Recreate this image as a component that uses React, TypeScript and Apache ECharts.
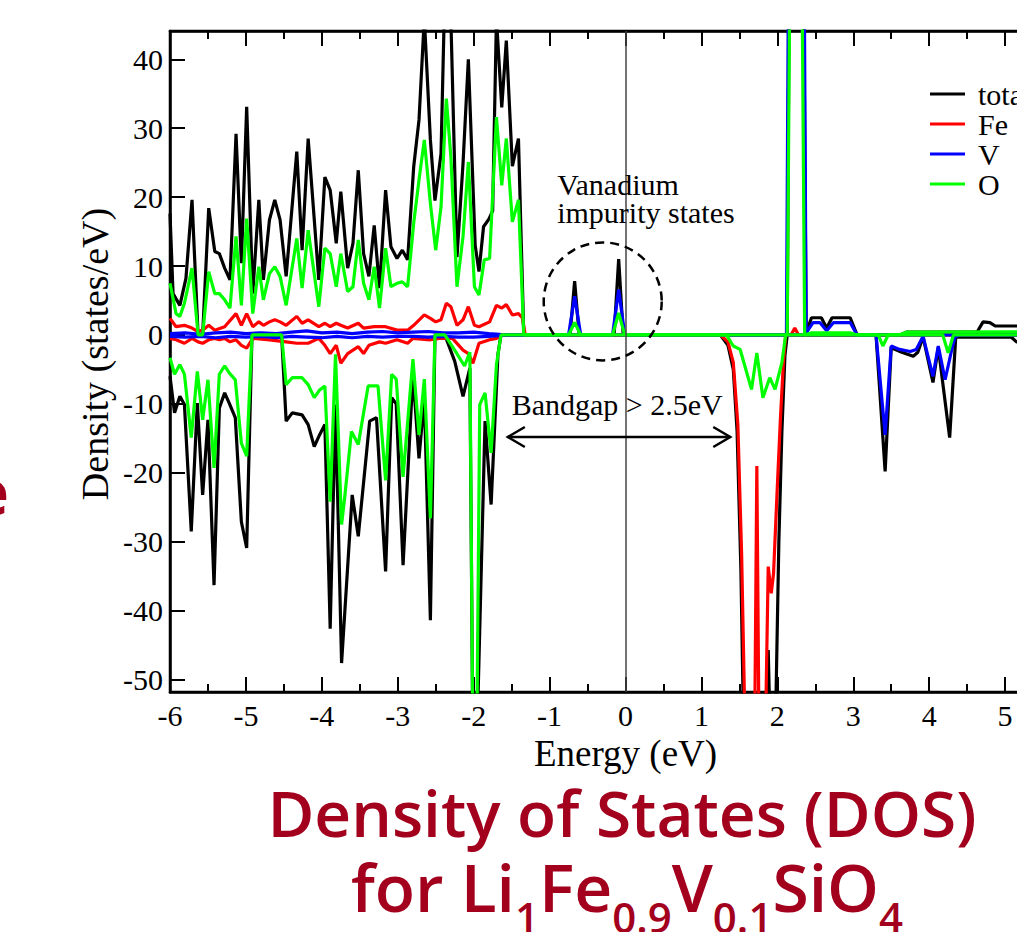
import React, { useEffect, useRef } from "react";
import * as echarts from "echarts";

type P = [number, number];

// ---------- data (Energy eV, Density states/eV) ----------
const totalUp: P[] = [
  [-6.0, 17.6], [-5.96, 6.0], [-5.87, 4.3], [-5.79, 8.2], [-5.71, 19.6], [-5.63, 0], [-5.57, 0],
  [-5.49, 18.4], [-5.41, 12.1], [-5.35, 11.8], [-5.28, 9.7], [-5.21, 8.0], [-5.13, 29.2], [-5.06, 10.4],
  [-4.99, 33.1], [-4.91, 6.0], [-4.83, 19.6], [-4.77, 8.0], [-4.69, 16.7], [-4.62, 19.6], [-4.55, 16.7],
  [-4.47, 8.5], [-4.33, 26.6], [-4.26, 12.3], [-4.18, 28.5], [-4.04, 8.0], [-3.96, 22.9], [-3.89, 21.0],
  [-3.81, 13.3], [-3.75, 20.8], [-3.66, 9.7], [-3.59, 13.3], [-3.52, 23.9], [-3.45, 11.8], [-3.38, 8.5],
  [-3.31, 15.9], [-3.24, 6.8], [-3.16, 21.0], [-3.09, 12.8], [-3.01, 11.1], [-2.94, 12.3], [-2.87, 10.9],
  [-2.79, 24.4], [-2.72, 31.2], [-2.65, 46.0], [-2.57, 28.3], [-2.51, 19.5], [-2.43, 26.3], [-2.38, 50],
  [-2.31, 50], [-2.22, 11.3], [-2.14, 24.9], [-2.07, 40.0], [-1.98, 13.0], [-1.93, 9.2], [-1.87, 15.7],
  [-1.80, 16.8], [-1.75, 18.0], [-1.70, 46.0], [-1.63, 33.0], [-1.57, 42.7], [-1.49, 24.5], [-1.41, 28.5],
  [-1.34, 0], [-0.73, 0], [-0.67, 7.8], [-0.61, 0], [-0.15, 0], [-0.09, 11.0], [-0.03, 0], [2.13, 0],
  [2.16, 60], [2.34, 60], [2.38, 0.3], [2.45, 2.5], [2.58, 2.5], [2.65, 1.0], [2.72, 2.5], [2.96, 2.5],
  [3.05, 0], [3.62, 0], [3.70, 0.4], [4.63, 0.4], [4.71, 1.9], [4.80, 1.8], [4.87, 1.3], [6.0, 1.3],
];

const totalDown: P[] = [
  [-6.0, -6.0], [-5.94, -11.3], [-5.87, -8.9], [-5.81, -10.1], [-5.72, -28.5], [-5.64, -9.9],
  [-5.57, -23.2], [-5.50, -12.3], [-5.42, -36.3], [-5.35, -10.6], [-5.28, -8.4], [-5.22, -9.9],
  [-5.14, -12.0], [-5.06, -27.1], [-4.99, -30.9], [-4.92, 0], [-4.53, 0], [-4.47, -12.5], [-4.39, -11.3],
  [-4.26, -11.6], [-4.18, -13.0], [-4.10, -16.2], [-4.03, -14.5], [-3.96, -13.0], [-3.89, -42.6],
  [-3.82, -10.1], [-3.74, -47.6], [-3.60, -23.2], [-3.52, -29.2], [-3.37, -12.5], [-3.28, -12.0],
  [-3.16, -34.3], [-3.08, -9.1], [-3.02, -10.0], [-2.93, -33.4], [-2.80, -5.7], [-2.72, -17.9],
  [-2.65, -9.1], [-2.57, -41.4], [-2.51, 0], [-2.38, 0], [-2.25, -3.8], [-2.14, -8.9], [-2.05, -4.8],
  [-2.01, -60], [-1.96, -60], [-1.85, -12.5], [-1.77, -24.6], [-1.68, -2.8], [-1.64, 0], [1.25, 0],
  [1.35, -1.5], [1.42, -5], [1.47, -14], [1.52, -34], [1.56, -60], [1.86, -60], [1.88, -45.7],
  [1.91, -60], [1.97, -60], [2.02, -30], [2.06, -14], [2.10, -3], [2.13, 0], [3.30, 0], [3.42, -19.8],
  [3.50, -1.8], [3.53, -2.0], [3.64, -2.5], [3.79, -3.1], [3.85, -2.5], [3.92, -0.3], [4.05, -6.9],
  [4.12, -1.8], [4.27, -14.9], [4.35, -0.3], [5.08, -0.3], [5.15, -1.0], [6.0, -1.2],
];

const feUp: P[] = [
  [-6.0, 2.4], [-5.92, 1.2], [-5.81, 1.4], [-5.71, 1.0], [-5.63, 0.5], [-5.57, 0.7], [-5.49, 1.4],
  [-5.41, 0.7], [-5.28, 1.2], [-5.13, 3.1], [-5.06, 1.4], [-4.99, 3.1], [-4.91, 1.2], [-4.83, 1.9],
  [-4.77, 1.4], [-4.69, 1.9], [-4.62, 2.2], [-4.55, 1.9], [-4.47, 1.4], [-4.33, 2.7], [-4.26, 1.7],
  [-4.18, 2.2], [-4.04, 1.2], [-3.96, 1.7], [-3.89, 1.2], [-3.81, 1.7], [-3.75, 1.4], [-3.66, 1.0],
  [-3.52, 1.7], [-3.45, 1.0], [-3.31, 1.2], [-3.16, 1.2], [-3.01, 0.7], [-2.87, 0.7], [-2.79, 1.4],
  [-2.65, 2.9], [-2.57, 2.4], [-2.50, 1.9], [-2.43, 2.2], [-2.36, 4.6], [-2.30, 4.1], [-2.22, 1.4],
  [-2.14, 2.2], [-2.07, 4.1], [-1.99, 1.4], [-1.93, 1.2], [-1.79, 1.9], [-1.70, 4.3], [-1.63, 3.9],
  [-1.57, 4.4], [-1.49, 2.9], [-1.41, 3.1], [-1.36, 2.5], [-1.32, 0], [2.18, 0], [2.23, 1.0],
  [2.28, 0], [6.0, 0],
];

const feDown: P[] = [
  [-6.0, -0.5], [-5.92, -0.7], [-5.81, -1.2], [-5.71, -0.5], [-5.63, -1.0], [-5.57, -1.2], [-5.49, -0.7],
  [-5.41, -0.5], [-5.35, -0.7], [-5.28, -0.5], [-5.21, -1.0], [-5.13, -0.7], [-5.06, -1.5], [-4.99, -1.9],
  [-4.91, -0.5], [-4.69, -0.7], [-4.47, -1.0], [-4.33, -1.2], [-4.18, -1.2], [-4.04, -0.5], [-3.96, -1.5],
  [-3.89, -2.7], [-3.81, -1.5], [-3.75, -4.1], [-3.66, -2.7], [-3.52, -1.7], [-3.45, -2.7], [-3.38, -1.5],
  [-3.24, -1.0], [-3.16, -1.2], [-3.01, -0.7], [-2.87, -1.2], [-2.80, -0.5], [-2.57, -0.7], [-2.45, -0.5],
  [-2.28, -0.5], [-2.14, -2.2], [-2.07, -2.7], [-2.01, -4.1], [-1.93, -1.2], [-1.79, -0.7], [-1.70, -0.5],
  [-1.64, 0], [1.25, 0], [1.35, -1], [1.42, -4], [1.48, -13], [1.53, -32], [1.58, -60], [1.70, -60],
  [1.73, -19], [1.76, -60], [1.84, -60], [1.88, -33.6], [1.92, -37.5], [1.95, -34.6], [2.0, -22],
  [2.04, -12.3], [2.08, -4], [2.11, 0], [6.0, 0],
];

const vUp: P[] = [
  [-6.0, 0.2], [-5.8, 0.3], [-5.6, 0.1], [-5.4, 0.3], [-5.2, 0.4], [-5.0, 0.2], [-4.8, 0.3], [-4.6, 0.2],
  [-4.4, 0.4], [-4.2, 0.6], [-4.0, 0.3], [-3.8, 0.4], [-3.6, 0.2], [-3.4, 0.4], [-3.2, 0.5], [-3.0, 0.3],
  [-2.8, 0.4], [-2.6, 0.5], [-2.4, 0.3], [-2.2, 0.3], [-2.0, 0.4], [-1.8, 0.2], [-1.66, 0.1], [-1.6, 0],
  [-0.75, 0], [-0.67, 5.6], [-0.59, 0], [-0.17, 0], [-0.09, 6.6], [-0.01, 0], [2.12, 0], [2.15, 60],
  [2.35, 60], [2.38, 0.3], [2.47, 1.8], [2.56, 1.8], [2.65, 0.6], [2.74, 1.8], [2.96, 1.8], [3.05, 0],
  [6.0, 0],
];

const vDown: P[] = [
  [-6.0, -0.2], [-5.8, -0.3], [-5.6, -0.2], [-5.4, -0.4], [-5.2, -0.2], [-5.0, -0.3], [-4.8, -0.2],
  [-4.6, -0.4], [-4.4, -0.2], [-4.2, -0.3], [-4.0, -0.4], [-3.8, -0.2], [-3.6, -0.4], [-3.4, -0.2],
  [-3.2, -0.3], [-3.0, -0.2], [-2.8, -0.2], [-2.6, -0.3], [-2.4, -0.2], [-2.2, -0.3], [-2.0, -0.3],
  [-1.8, -0.2], [-1.66, -0.1], [-1.6, 0], [3.30, 0], [3.42, -14.5], [3.50, -1.6], [3.61, -2.1],
  [3.75, -2.4], [3.83, -2.1], [3.92, -0.2], [4.05, -6.0], [4.12, -1.6], [4.21, -6.5], [4.30, -2.0],
  [4.34, -0.3], [4.40, 0], [6.0, 0],
];

const oUp: P[] = [
  [-6.0, 7.5], [-5.92, 3.1], [-5.87, 2.7], [-5.81, 4.6], [-5.71, 9.7], [-5.63, 0], [-5.57, 0], [-5.49, 9.2],
  [-5.41, 6.0], [-5.35, 6.0], [-5.28, 5.1], [-5.21, 3.9], [-5.13, 14.3], [-5.06, 4.3], [-4.99, 16.9],
  [-4.91, 3.1], [-4.83, 9.9], [-4.77, 5.1], [-4.69, 8.9], [-4.62, 9.9], [-4.55, 8.5], [-4.47, 4.3],
  [-4.33, 14.0], [-4.26, 6.8], [-4.18, 15.2], [-4.04, 4.1], [-3.96, 12.6], [-3.89, 11.8], [-3.81, 7.0],
  [-3.75, 11.8], [-3.66, 6.3], [-3.59, 7.0], [-3.52, 13.8], [-3.45, 7.5], [-3.38, 5.1], [-3.31, 9.9],
  [-3.24, 3.9], [-3.16, 12.6], [-3.09, 7.0], [-3.01, 7.5], [-2.94, 7.7], [-2.87, 7.0], [-2.79, 16.2],
  [-2.72, 22.5], [-2.65, 28.3], [-2.57, 19.1], [-2.50, 12.3], [-2.43, 18.6], [-2.36, 34.3], [-2.30, 25.8],
  [-2.22, 7.0], [-2.14, 14.3], [-2.07, 25.1], [-1.99, 7.0], [-1.93, 5.8], [-1.86, 10.9], [-1.79, 11.1],
  [-1.70, 31.6], [-1.63, 21.7], [-1.57, 28.5], [-1.49, 16.4], [-1.41, 19.6], [-1.34, 0], [-0.75, 0],
  [-0.67, 1.8], [-0.59, 0], [-0.17, 0], [-0.09, 3.2], [-0.01, 0], [2.13, 0], [2.17, 60], [2.32, 60],
  [2.36, 0], [2.45, 0.3], [2.96, 0.3], [3.05, 0], [3.60, 0], [3.70, 0.4], [6.0, 0.5],
];

const oDown: P[] = [
  [-6.0, -3.3], [-5.94, -5.7], [-5.87, -4.3], [-5.81, -5.7], [-5.72, -14.9], [-5.64, -5.3], [-5.57, -12.3],
  [-5.50, -6.5], [-5.42, -19.3], [-5.35, -5.7], [-5.28, -4.5], [-5.22, -5.5], [-5.14, -6.5], [-5.06, -15.7],
  [-4.99, -17.6], [-4.92, 0], [-4.53, 0], [-4.47, -7.2], [-4.39, -6.2], [-4.26, -6.2], [-4.18, -7.2],
  [-4.10, -9.1], [-4.03, -8.0], [-3.96, -7.4], [-3.89, -24.2], [-3.82, -2.8], [-3.74, -27.5], [-3.70, -23.7],
  [-3.61, -14.0], [-3.52, -15.9], [-3.39, -7.4], [-3.26, -7.4], [-3.16, -21.1], [-3.08, -5.7], [-3.02, -6.4],
  [-2.93, -20.6], [-2.80, -3.5], [-2.72, -14.5], [-2.65, -6.4], [-2.57, -26.6], [-2.51, 0], [-2.38, 0],
  [-2.25, -2.2], [-2.12, -4.5], [-2.05, -2.5], [-2.01, -60], [-1.96, -60], [-1.92, -10.1], [-1.85, -8.4],
  [-1.77, -17.1], [-1.70, -4.3], [-1.64, 0], [1.33, 0], [1.42, -1.6], [1.51, -2.1], [1.66, -7.9],
  [1.73, -2.6], [1.81, -9.1], [1.90, -6.2], [1.97, -7.9], [2.06, -4.0], [2.11, 0], [3.33, 0], [3.39, -1.6],
  [3.46, 0], [4.18, 0], [4.25, -2.6], [4.32, 0], [6.0, 0],
];

const seriesNames = ["total", "Fe", "V", "O"];
const seriesColors = ["#000000", "#ff0000", "#0000ff", "#00ff00"];

const X_MIN = -6;
const X_MAX = 6;
const Y_MIN = -51.8;
const Y_MAX = 44.1;

const TITLE_1 = "Density of States (DOS)";
const TITLE_COLOR = "#a3001e";
const SERIF = "'Liberation Serif', 'DejaVu Serif', serif";
const SANS = "'Open Sans', 'Noto Sans', sans-serif";

export default function App() {
  const ref = useRef<HTMLDivElement>(null);

  useEffect(() => {
    if (!ref.current) return;
    const chart = echarts.init(ref.current, null, { renderer: "svg" });

    const mk = (idx: number, data: P[], withZero = false) => {
      const s: any = {
        type: "line",
        name: seriesNames[idx],
        data,
        symbol: "none",
        showSymbol: false,
        silent: true,
        clip: true,
        lineStyle: { color: seriesColors[idx], width: 3.2 },
        itemStyle: { color: seriesColors[idx] },
      };
      if (withZero) {
        s.markLine = {
          silent: true,
          symbol: ["none", "none"],
          label: { show: false },
          lineStyle: { color: "#444", width: 1.5, type: "solid" },
          data: [{ xAxis: 0 }],
        };
      }
      return s;
    };

    const xAxisBase = {
      type: "value",
      min: X_MIN,
      max: X_MAX,
      interval: 1,
      axisLine: { show: true, onZero: false, lineStyle: { color: "#000", width: 2.5 } },
      axisTick: { show: true, inside: true, length: 15, lineStyle: { color: "#000", width: 2 } },
      minorTick: { show: true, splitNumber: 2, length: 8, lineStyle: { color: "#000", width: 2 } },
      splitLine: { show: false },
    };

    chart.setOption({
      animation: false,
      backgroundColor: "#fff",
      grid: {
        left: 170,
        top: 31,
        right: -64,
        bottom: 240,
        show: true,
        borderColor: "#000",
        borderWidth: 2.5,
        containLabel: false,
        outerBoundsMode: "none",
      },
      xAxis: [
        {
          ...xAxisBase,
          position: "bottom",
          axisLabel: { color: "#000", fontFamily: SERIF, fontSize: 30, margin: 8 },
          name: "Energy (eV)",
          nameLocation: "middle",
          nameGap: 32,
          nameTextStyle: { color: "#000", fontFamily: SERIF, fontSize: 37 },
        },
        {
          ...xAxisBase,
          position: "top",
          axisLabel: { show: false },
        },
      ],
      yAxis: [
        {
          type: "value",
          min: Y_MIN,
          max: Y_MAX,
          splitNumber: 10,
          axisLine: { show: true, onZero: false, lineStyle: { color: "#000", width: 2.5 } },
          axisTick: { show: true, inside: true, length: 15, lineStyle: { color: "#000", width: 2 } },
          splitLine: { show: false },
          axisLabel: {
            color: "#000",
            fontFamily: SERIF,
            fontSize: 30,
            margin: 7,
            showMinLabel: false,
            showMaxLabel: false,
          },
        },
      ],
      legend: {
        data: seriesNames,
        orient: "vertical",
        left: 925,
        top: 74,
        icon: "rect",
        itemWidth: 35,
        itemHeight: 3,
        itemGap: 0,
        textStyle: {
          color: "#000",
          fontFamily: SERIF,
          fontSize: 30,
          lineHeight: 30,
          padding: [0, 0, 0, 8],
        },
      },
      series: [
        mk(0, totalUp, true),
        mk(0, totalDown),
        mk(1, feUp),
        mk(1, feDown),
        mk(2, vUp),
        mk(2, vDown),
        mk(3, oUp),
        mk(3, oDown),
      ],
    });

    const px = (x: number, y: number) =>
      chart.convertToPixel({ xAxisIndex: 0, yAxisIndex: 0 }, [x, y]) as number[];

    const circleC = px(-0.3, 4.87);
    const arrL = px(-1.55, -14.8);
    const arrR = px(1.38, -14.8);
    const vanTxt = px(-0.9, 21.9);
    const impTxt = px(-0.9, 17.8);
    const gapTxt = px(-1.5, -10.1);
    const head = 17;
    const half = 10;

    chart.setOption({
      graphic: [
        {
          type: "circle",
          shape: { cx: circleC[0], cy: circleC[1], r: 59 },
          style: { fill: "none", stroke: "#000", lineWidth: 2.5, lineDash: [9, 6] },
          z: 100,
        },
        {
          type: "line",
          shape: { x1: arrL[0], y1: arrL[1], x2: arrR[0], y2: arrR[1] },
          style: { stroke: "#000", lineWidth: 2.5 },
          z: 100,
        },
        {
          type: "polyline",
          shape: {
            points: [
              [arrL[0] + head, arrL[1] - half],
              [arrL[0], arrL[1]],
              [arrL[0] + head, arrL[1] + half],
            ],
          },
          style: { stroke: "#000", lineWidth: 2.5, fill: "none" },
          z: 100,
        },
        {
          type: "polyline",
          shape: {
            points: [
              [arrR[0] - head, arrR[1] - half],
              [arrR[0], arrR[1]],
              [arrR[0] - head, arrR[1] + half],
            ],
          },
          style: { stroke: "#000", lineWidth: 2.5, fill: "none" },
          z: 100,
        },
        {
          type: "text",
          x: vanTxt[0],
          y: vanTxt[1],
          style: {
            text: "Vanadium",
            fontFamily: SERIF,
            fontSize: 30,
            fill: "#000",
            textAlign: "left",
            textVerticalAlign: "middle",
          },
          z: 100,
        },
        {
          type: "text",
          x: impTxt[0],
          y: impTxt[1],
          style: {
            text: "impurity states",
            fontFamily: SERIF,
            fontSize: 30,
            fill: "#000",
            textAlign: "left",
            textVerticalAlign: "middle",
          },
          z: 100,
        },
        {
          type: "text",
          x: gapTxt[0],
          y: gapTxt[1],
          style: {
            text: "Bandgap > 2.5eV",
            fontFamily: SERIF,
            fontSize: 30,
            fill: "#000",
            textAlign: "left",
            textVerticalAlign: "middle",
          },
          z: 100,
        },
        {
          type: "text",
          x: 95,
          y: 354,
          rotation: Math.PI / 2,
          style: {
            text: "Density (states/eV)",
            fontFamily: SERIF,
            fontSize: 38,
            fill: "#000",
            textAlign: "center",
            textVerticalAlign: "middle",
          },
          z: 100,
        },
        {
          type: "text",
          x: 622,
          y: 812,
          style: {
            text: TITLE_1,
            fontFamily: SANS,
            fontSize: 64,
            fontWeight: 600,
            fill: TITLE_COLOR,
            textAlign: "center",
            textVerticalAlign: "middle",
          },
          z: 100,
        },
        {
          type: "text",
          x: 627,
          y: 886,
          style: {
            text: "{a|for Li}{s|1}{a|Fe}{s|0.9}{a|V}{s|0.1}{a|SiO}{s|4}",
            textAlign: "center",
            textVerticalAlign: "middle",
            rich: {
              a: {
                fontFamily: SANS,
                fontSize: 66,
                fontWeight: 600,
                fill: TITLE_COLOR,
                color: TITLE_COLOR,
                lineHeight: 66,
                verticalAlign: "top",
              },
              s: {
                fontFamily: SANS,
                fontSize: 42,
                fontWeight: 600,
                fill: TITLE_COLOR,
                color: TITLE_COLOR,
                lineHeight: 42,
                padding: [42, 0, 0, 0],
                verticalAlign: "top",
              },
            },
          },
          z: 100,
        },
        {
          type: "text",
          x: 9,
          y: 491,
          style: {
            text: "e",
            fontFamily: SANS,
            fontSize: 62,
            fontWeight: 700,
            fill: TITLE_COLOR,
            textAlign: "right",
            textVerticalAlign: "middle",
          },
          z: 100,
        },
      ],
    });

    return () => chart.dispose();
  }, []);

  return (
    <div
      ref={ref}
      style={{ position: "absolute", left: 0, top: 0, width: 1017, height: 932, background: "#fff" }}
    />
  );
}
